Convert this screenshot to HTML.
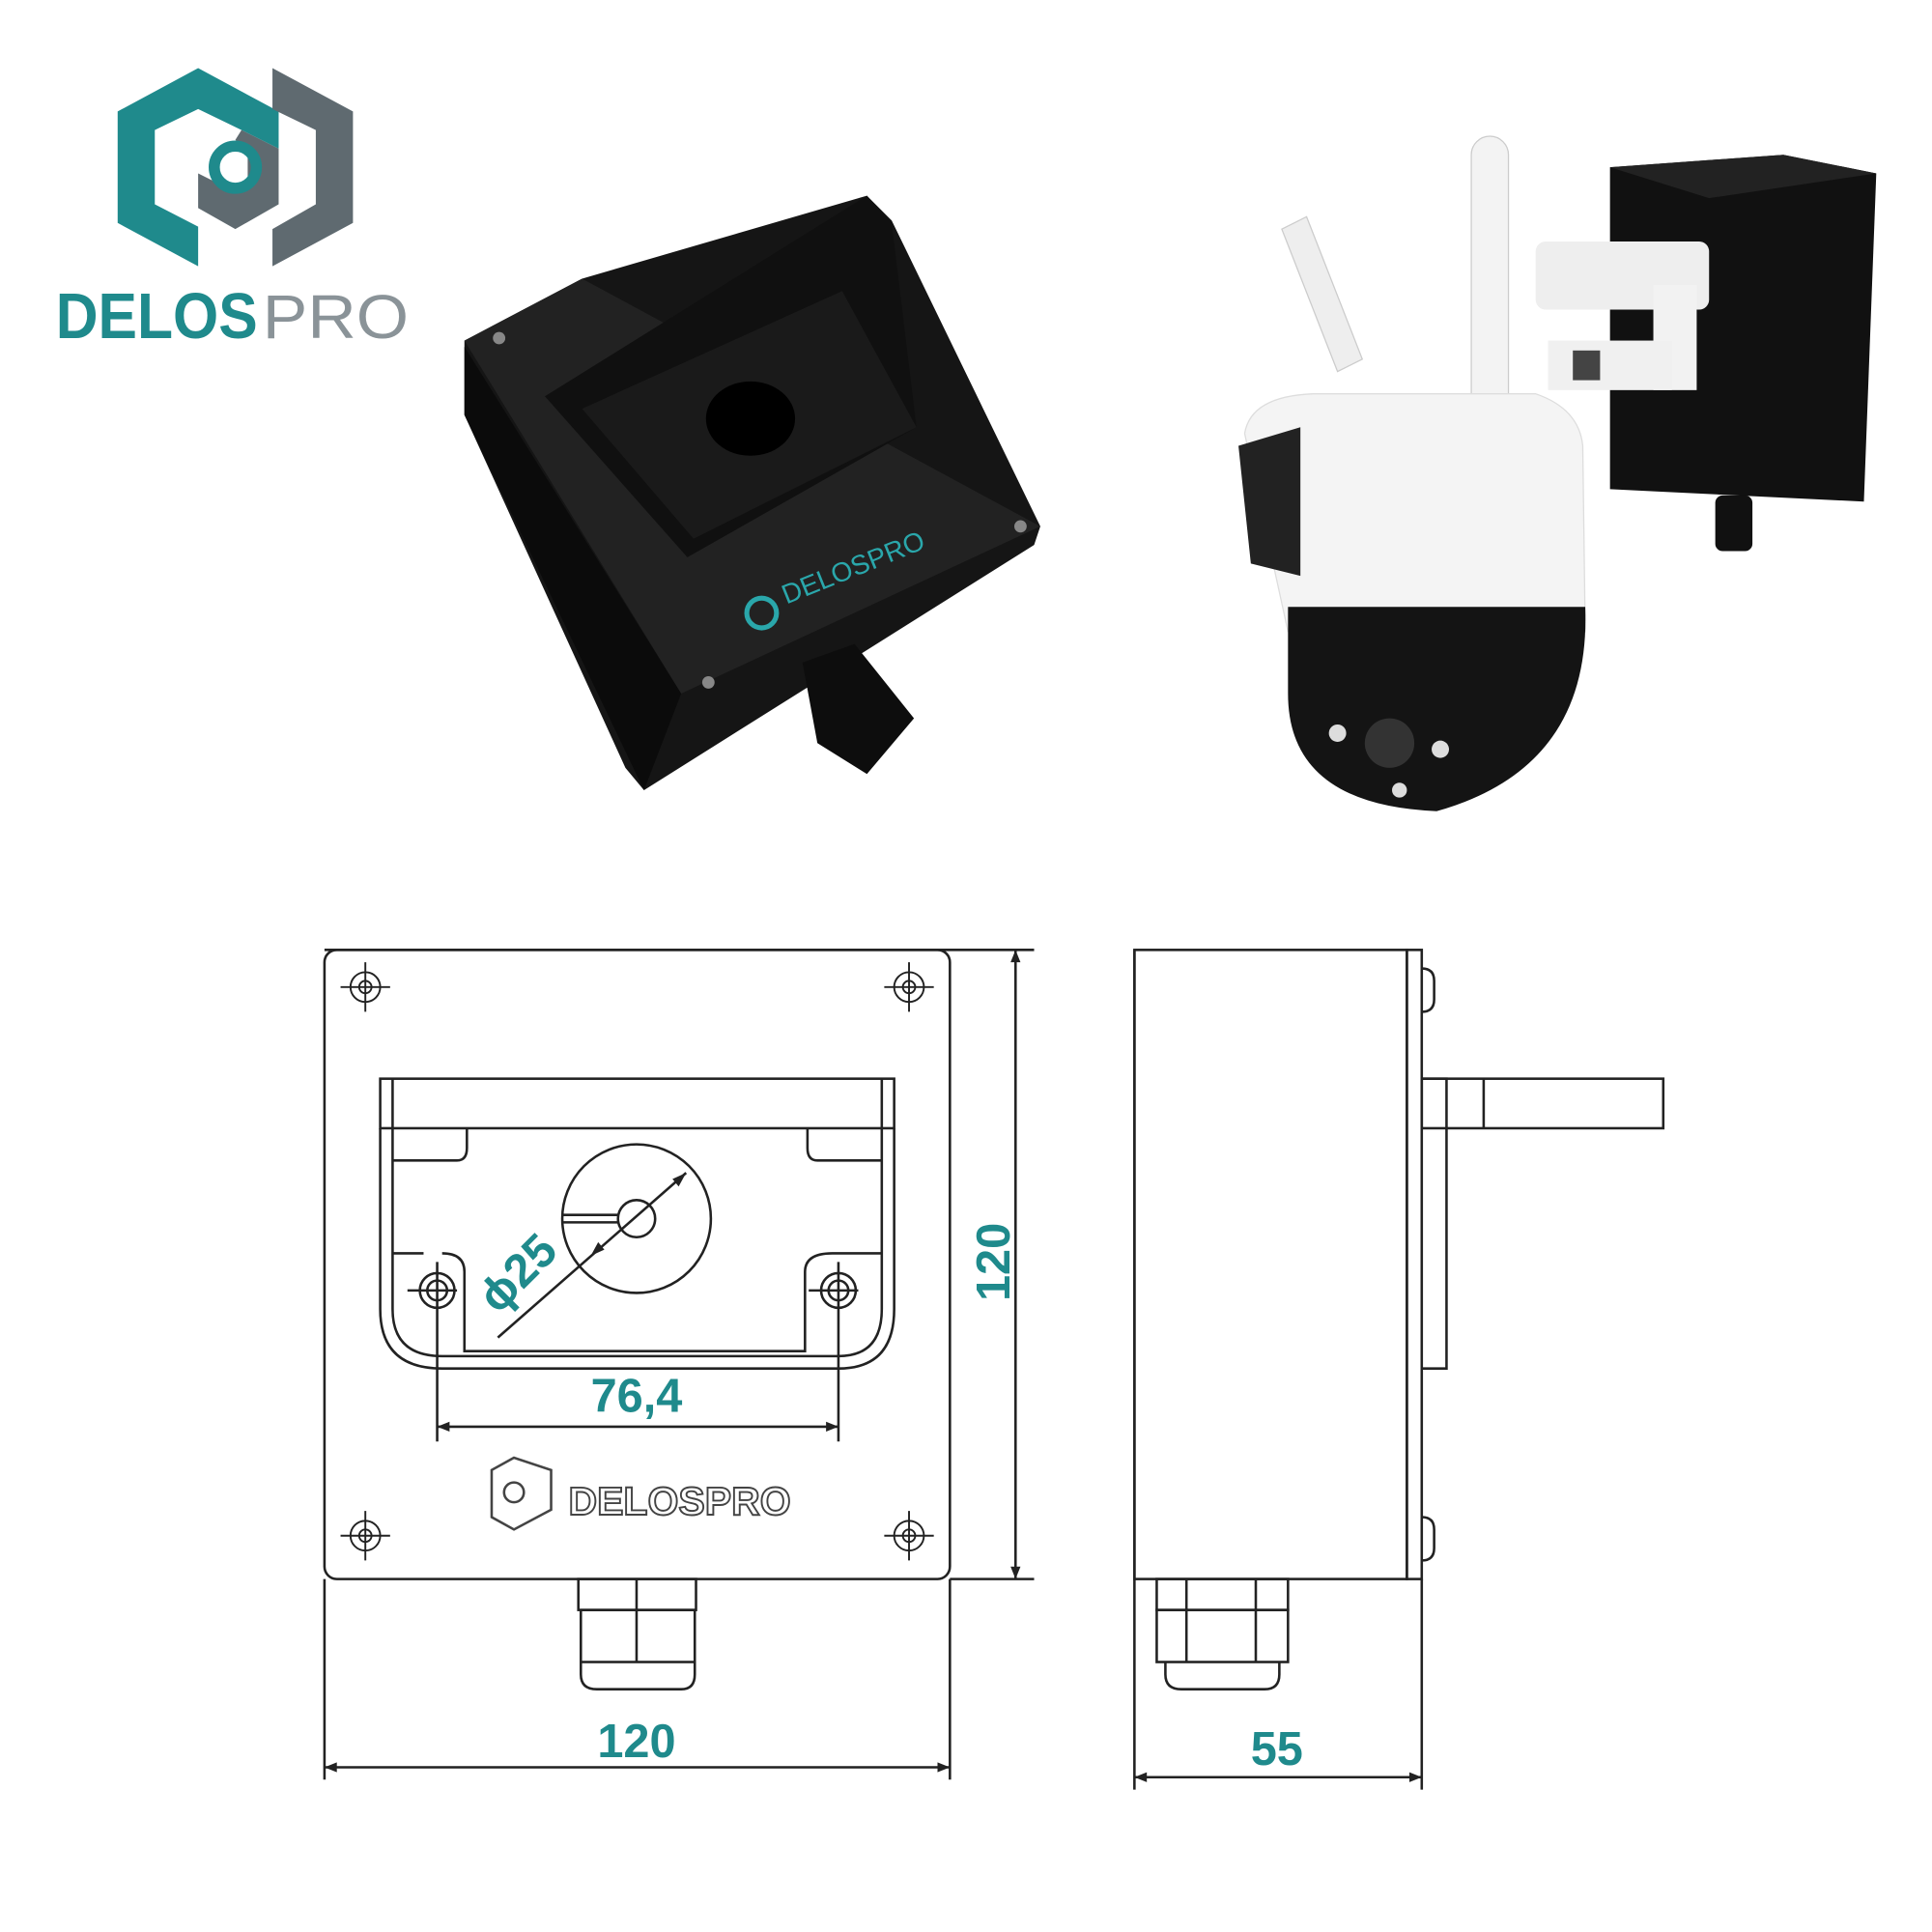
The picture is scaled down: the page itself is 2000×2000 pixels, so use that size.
<!DOCTYPE html>
<html><head><style>html,body{margin:0;padding:0;background:#fff}svg{display:block}</style></head>
<body>
<svg width="2000" height="2000" viewBox="0 0 1560 1560" xmlns="http://www.w3.org/2000/svg" font-family="Liberation Sans, sans-serif">
<rect width="1560" height="1560" fill="#fff"/>
<g>
<polygon points="160,55 225,90 225,120 195,105 160,88 125,105 125,165 160,183 160,215 95,180 95,90" fill="#1f8a8c"/>
<polygon points="220,55 285,90 285,180 220,215 220,185 255,165 255,105 220,88" fill="#5f6a70"/>
<polygon points="195,105 225,120 225,165 190,185 160,168 160,140 190,155 200,148 200,120 190,113" fill="#5f6a70"/>
<circle cx="190" cy="135" r="17" fill="none" stroke="#1f8a8c" stroke-width="9"/>
<text x="45" y="273" font-size="52" font-weight="bold" fill="#1f8a8c" textLength="163" lengthAdjust="spacingAndGlyphs">DELOS</text>
<text x="212" y="273" font-size="50" fill="#8a9398" textLength="118" lengthAdjust="spacingAndGlyphs">PRO</text>
</g>
<g>
<polygon points="375,275 470,225 700,158 720,178 840,425 835,440 520,638 505,620 375,335" fill="#151515"/>
<polygon points="375,275 470,225 840,425 550,560" fill="#222"/>
<polygon points="375,280 550,560 520,638 375,335" fill="#0b0b0b"/>
<polygon points="440,320 700,158 720,180 740,345 555,450" fill="#101010"/>
<polygon points="470,330 680,235 740,345 560,435" fill="#1a1a1a"/>
<ellipse cx="606" cy="338" rx="36" ry="30" fill="#000"/>
<polygon points="648,535 690,520 738,580 700,625 660,600" fill="#0d0d0d"/>
<circle cx="615" cy="495" r="12" fill="none" stroke="#2aa7ab" stroke-width="4"/>
<text x="635" y="488" font-size="22" fill="#2aa7ab" transform="rotate(-22 635 488)">DELOSPRO</text>
<circle cx="403" cy="273" r="5" fill="#888"/><circle cx="824" cy="425" r="5" fill="#888"/><circle cx="572" cy="551" r="5" fill="#888"/>
</g>
<g>
<polygon points="1300,135 1440,125 1515,140 1505,405 1300,395" fill="#111"/>
<polygon points="1300,135 1440,125 1515,140 1380,160" fill="#222"/>
<rect x="1240" y="195" width="140" height="55" rx="8" fill="#eee"/>
<rect x="1335" y="230" width="35" height="85" fill="#f2f2f2"/>
<rect x="1250" y="275" width="100" height="40" fill="#f0f0f0"/>
<rect x="1270" y="283" width="22" height="24" fill="#444"/>
<rect x="1385" y="400" width="30" height="45" rx="6" fill="#111"/>
<path d="M1035,185 L1055,175 L1100,290 L1080,300 Z" fill="#eee" stroke="#ccc"/>
<rect x="1188" y="110" width="30" height="280" rx="15" fill="#f3f3f3" stroke="#ccc"/>
<path d="M1005,350 Q1010,320 1060,318 L1240,318 Q1275,330 1278,360 L1280,510 L1040,510 Z" fill="#f4f4f4" stroke="#ddd"/>
<path d="M1040,490 L1280,490 Q1285,620 1160,655 Q1040,650 1040,560 Z" fill="#141414"/>
<path d="M1000,360 L1050,345 L1050,465 L1010,455 Z" fill="#222"/>
<circle cx="1122" cy="600" r="20" fill="#333"/>
<circle cx="1080" cy="592" r="7" fill="#ddd"/><circle cx="1163" cy="605" r="7" fill="#ddd"/><circle cx="1130" cy="638" r="6" fill="#ddd"/>
</g>
<g transform="translate(-3,-3)">
<g fill="none" stroke="#222" stroke-width="2">
<rect x="265" y="770" width="505" height="508" rx="10"/>
<line x1="265" y1="770" x2="838" y2="770"/>
<line x1="770" y1="1278" x2="838" y2="1278"/>
<line x1="823" y1="770" x2="823" y2="1278"/>
<line x1="265" y1="1278" x2="265" y2="1440"/>
<line x1="770" y1="1278" x2="770" y2="1440"/>
<line x1="265" y1="1430" x2="770" y2="1430"/>
<g stroke-width="1.5">
<circle cx="298" cy="800" r="12"/><circle cx="298" cy="800" r="5"/><path d="M278,800h40M298,780v40"/>
<circle cx="737" cy="800" r="12"/><circle cx="737" cy="800" r="5"/><path d="M717,800h40M737,780v40"/>
<circle cx="298" cy="1243" r="12"/><circle cx="298" cy="1243" r="5"/><path d="M278,1243h40M298,1223v40"/>
<circle cx="737" cy="1243" r="12"/><circle cx="737" cy="1243" r="5"/><path d="M717,1243h40M737,1223v40"/>
</g>
<rect x="310" y="874" width="415" height="40"/>
<line x1="320" y1="874" x2="320" y2="914"/><line x1="715" y1="874" x2="715" y2="914"/>
<path d="M310,914 V1060 Q310,1108 360,1108 H680 Q725,1108 725,1060 V914"/>
<path d="M320,914 V1060 Q320,1098 360,1098 H680 Q715,1098 715,1060 V914"/>
<path d="M320,1015 H345 M378,1095 V1030 Q378,1015 360,1015 M653,1095 V1030 Q653,1015 675,1015 H715"/>
<path d="M320,940 H372 Q380,940 380,930 V914 M715,940 H663 Q655,940 655,930 V914"/>
<line x1="378" y1="1094" x2="653" y2="1094"/>
<circle cx="356" cy="1045" r="14"/><circle cx="356" cy="1045" r="8"/><path d="M332,1045h40M356,1022v145"/>
<circle cx="680" cy="1045" r="14"/><circle cx="680" cy="1045" r="8"/><path d="M656,1045h40M680,1022v145"/>
<line x1="356" y1="1155" x2="680" y2="1155"/>
<circle cx="517" cy="987" r="60"/><circle cx="517" cy="987" r="15"/>
<path d="M457,984 H503 M457,990 H503"/>
<line x1="405" y1="1083" x2="557" y2="950"/>
<rect x="470" y="1278" width="95" height="25"/><line x1="517" y1="1278" x2="517" y2="1345"/>
<rect x="472" y="1303" width="92" height="42"/>
<path d="M472,1345 V1355 Q472,1367 485,1367 H553 Q564,1367 564,1355 V1345"/>
</g>
<g fill="#222">
<polygon points="265,1430 275,1426 275,1434"/><polygon points="770,1430 760,1426 760,1434"/>
<polygon points="823,770 819,780 827,780"/><polygon points="823,1278 819,1268 827,1268"/>
<polygon points="356,1155 366,1151 366,1159"/><polygon points="680,1155 670,1151 670,1159"/>
<polygon points="557,950 546,955 551,961"/><polygon points="480,1017 491,1012 486,1006"/>
</g>
<g font-weight="bold" fill="#1f8a8c" font-size="38">
<text x="517" y="1422" text-anchor="middle">120</text>
<text x="517" y="1143" text-anchor="middle">76,4</text>
<text x="0" y="0" text-anchor="middle" transform="translate(818,1022) rotate(-90)">120</text>
<text x="0" y="0" text-anchor="middle" transform="translate(430,1040) rotate(-45)">ϕ25</text>
</g>
<g fill="none" stroke="#444" stroke-width="2">
<path d="M418,1180 L400,1190 V1228 L418,1238 L448,1222 V1190 Z"/><circle cx="418" cy="1208" r="8"/>
</g>
<text x="462" y="1226" font-size="32" font-weight="bold" fill="#fff" stroke="#444" stroke-width="1.5">DELOSPRO</text>
</g>
<g transform="translate(-4,-3)">
<g fill="none" stroke="#222" stroke-width="2">
<rect x="920" y="770" width="220" height="508"/>
<line x1="920" y1="770" x2="920" y2="1448"/>
<rect x="1140" y="770" width="12" height="508"/>
<line x1="1152" y1="1278" x2="1152" y2="1448"/>
<path d="M1152,785 Q1162,785 1162,795 V810 Q1162,820 1152,820 M1152,1228 Q1162,1228 1162,1238 V1253 Q1162,1263 1152,1263"/>
<rect x="1152" y="874" width="195" height="40"/>
<line x1="1202" y1="874" x2="1202" y2="914"/>
<path d="M1152,874 H1172 V1108 H1152"/>
<line x1="920" y1="1438" x2="1152" y2="1438"/>
<rect x="938" y="1278" width="106" height="25"/><line x1="962" y1="1278" x2="962" y2="1345"/><line x1="1018" y1="1278" x2="1018" y2="1345"/>
<rect x="938" y="1303" width="106" height="42"/>
<path d="M945,1345 V1355 Q945,1367 958,1367 H1025 Q1037,1367 1037,1355 V1345"/>
</g>
<g fill="#222"><polygon points="920,1438 930,1434 930,1442"/><polygon points="1152,1438 1142,1434 1142,1442"/></g>
<text x="1035" y="1428" text-anchor="middle" font-weight="bold" fill="#1f8a8c" font-size="38">55</text>
</g>
</svg>
</body></html>
